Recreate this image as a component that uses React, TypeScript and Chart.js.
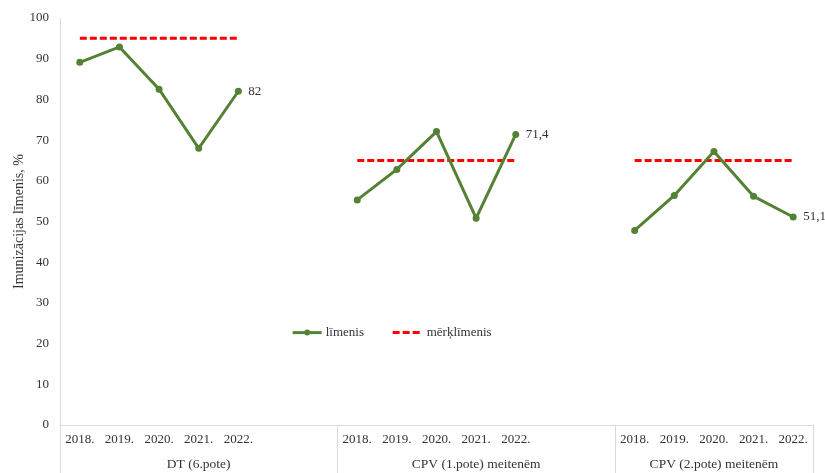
import { useEffect, useRef } from 'react';
import { Chart, registerables } from 'chart.js';

Chart.register(...registerables);

const years = ['2018.', '2019.', '2020.', '2021.', '2022.'];
const groups = ['DT (6.pote)', 'CPV (1.pote) meitenēm', 'CPV (2.pote) meitenēm'];
const levelDT = [89.1, 92.9, 82.5, 68.0, 82];
const levelCPV1 = [55.3, 62.8, 72.1, 50.8, 71.4];
const levelCPV2 = [47.8, 56.4, 67.2, 56.2, 51.1];
const targets = [95, 65, 65];
const gapSlots = [2, 2, 0];
const yTicks = [0, 10, 20, 30, 40, 50, 60, 70, 80, 90, 100];

const FONT = "'Liberation Serif', 'Times New Roman', serif";
const TEXT = '#333333';
const GREEN = '#548235';
const RED = '#ff0000';
const GRID = '#d9d9d9';

export default function App() {
  const ref = useRef<HTMLCanvasElement>(null);

  useEffect(() => {
    const series = [levelDT, levelCPV1, levelCPV2];
    const labels: string[] = [];
    const level: (number | null)[] = [];
    const target: (number | null)[] = [];
    const groupRanges: { start: number; end: number }[] = [];
    series.forEach((vals, g) => {
      const start = labels.length;
      years.forEach((y, i) => {
        labels.push(y);
        level.push(vals[i]);
        target.push(targets[g]);
      });
      for (let k = 0; k < gapSlots[g]; k++) {
        labels.push('');
        level.push(null);
        target.push(null);
      }
      groupRanges.push({ start, end: labels.length - 1 });
    });

    const overlay = {
      id: 'overlay',
      afterDraw(chart: any) {
        const ctx = chart.ctx;
        const x = chart.scales.x;
        const area = chart.chartArea;
        const H = chart.height;
        ctx.save();
        // group separators
        ctx.strokeStyle = GRID;
        ctx.lineWidth = 1;
        const edges: number[] = [area.left];
        groupRanges.forEach((r, gi) => {
          if (gi < groupRanges.length - 1) {
            edges.push((x.getPixelForValue(r.end) + x.getPixelForValue(r.end + 1)) / 2);
          }
        });
        edges.push(area.right);
        edges.forEach((ex) => {
          const px = Math.round(ex) + 0.5;
          ctx.beginPath();
          ctx.moveTo(px, area.bottom);
          ctx.lineTo(px, H);
          ctx.stroke();
        });
        // group labels
        ctx.fillStyle = TEXT;
        ctx.font = `13.5px ${FONT}`;
        ctx.textAlign = 'center';
        ctx.textBaseline = 'middle';
        groups.forEach((g, gi) => {
          ctx.fillText(g, (edges[gi] + edges[gi + 1]) / 2, area.bottom + 39);
        });
        // data labels for last point in each group
        ctx.font = `13px ${FONT}`;
        const meta = chart.getDatasetMeta(0);
        ctx.textAlign = 'left';
        groupRanges.forEach((r) => {
          const idx = r.start + years.length - 1;
          const pt = meta.data[idx];
          const v = level[idx] as number;
          ctx.fillText(String(v).replace('.', ','), pt.x + 10, pt.y);
        });
        // legend
        const ly = area.top + (area.bottom - area.top) * 0.773;
        const lx = area.left + (area.right - area.left) * 0.309;
        ctx.strokeStyle = GREEN;
        ctx.lineWidth = 3;
        ctx.beginPath();
        ctx.moveTo(lx, ly);
        ctx.lineTo(lx + 29, ly);
        ctx.stroke();
        ctx.fillStyle = GREEN;
        ctx.beginPath();
        ctx.arc(lx + 14.5, ly, 3, 0, Math.PI * 2);
        ctx.fill();
        ctx.fillStyle = TEXT;
        ctx.fillText('līmenis', lx + 33, ly);
        const lx2 = lx + 100;
        ctx.strokeStyle = RED;
        ctx.setLineDash([7, 3]);
        ctx.beginPath();
        ctx.moveTo(lx2, ly);
        ctx.lineTo(lx2 + 28, ly);
        ctx.stroke();
        ctx.setLineDash([]);
        ctx.fillText('mērķlīmenis', lx2 + 34, ly);
        ctx.restore();
      },
    };

    const chart = new Chart(ref.current as HTMLCanvasElement, {
      type: 'line',
      data: {
        labels,
        datasets: [
          {
            label: 'līmenis',
            data: level,
            borderColor: GREEN,
            backgroundColor: GREEN,
            borderWidth: 3,
            pointRadius: 3.5,
            pointBackgroundColor: GREEN,
            pointBorderWidth: 0,
            spanGaps: false,
            tension: 0,
          },
          {
            label: 'mērķlīmenis',
            data: target,
            borderColor: RED,
            backgroundColor: RED,
            borderWidth: 3,
            borderDash: [7, 3],
            pointRadius: 0,
            spanGaps: false,
            tension: 0,
          },
        ],
      },
      options: {
        responsive: false,
        animation: false,
        devicePixelRatio: 1,
        layout: { padding: { left: 0, right: 12, top: 18, bottom: 0 } },
        plugins: {
          legend: { display: false },
          tooltip: { enabled: false },
        },
        scales: {
          x: {
            type: 'category',
            offset: true,
            grid: { display: false, drawTicks: false },
            border: { display: true, color: GRID, width: 1 },
            ticks: {
              autoSkip: false,
              maxRotation: 0,
              minRotation: 0,
              padding: 7,
              color: TEXT,
              font: { family: FONT, size: 13 },
            },
            afterFit: (s: any) => {
              s.height = 48;
            },
          },
          y: {
            min: 0,
            max: 100,
            afterBuildTicks: (s: any) => {
              s.ticks = yTicks.map((v) => ({ value: v }));
            },
            grid: { display: false, drawTicks: false },
            border: { display: true, color: GRID, width: 1 },
            ticks: {
              padding: 11,
              color: TEXT,
              font: { family: FONT, size: 13 },
            },
            title: {
              display: true,
              text: 'Imunizācijas līmenis, %',
              color: TEXT,
              font: { family: FONT, size: 14 },
              padding: { top: 11, bottom: 0 },
            },
            afterFit: (s: any) => {
              s.width = 60;
              s.paddingTop = 4;
              s.paddingBottom = 4;
            },
          },
        },
      },
      plugins: [overlay],
    });
    return () => chart.destroy();
  }, []);

  return (
    <div style={{ position: 'absolute', left: 0, top: 0, width: 825, height: 473 }}>
      <canvas ref={ref} width={825} height={473} />
    </div>
  );
}
